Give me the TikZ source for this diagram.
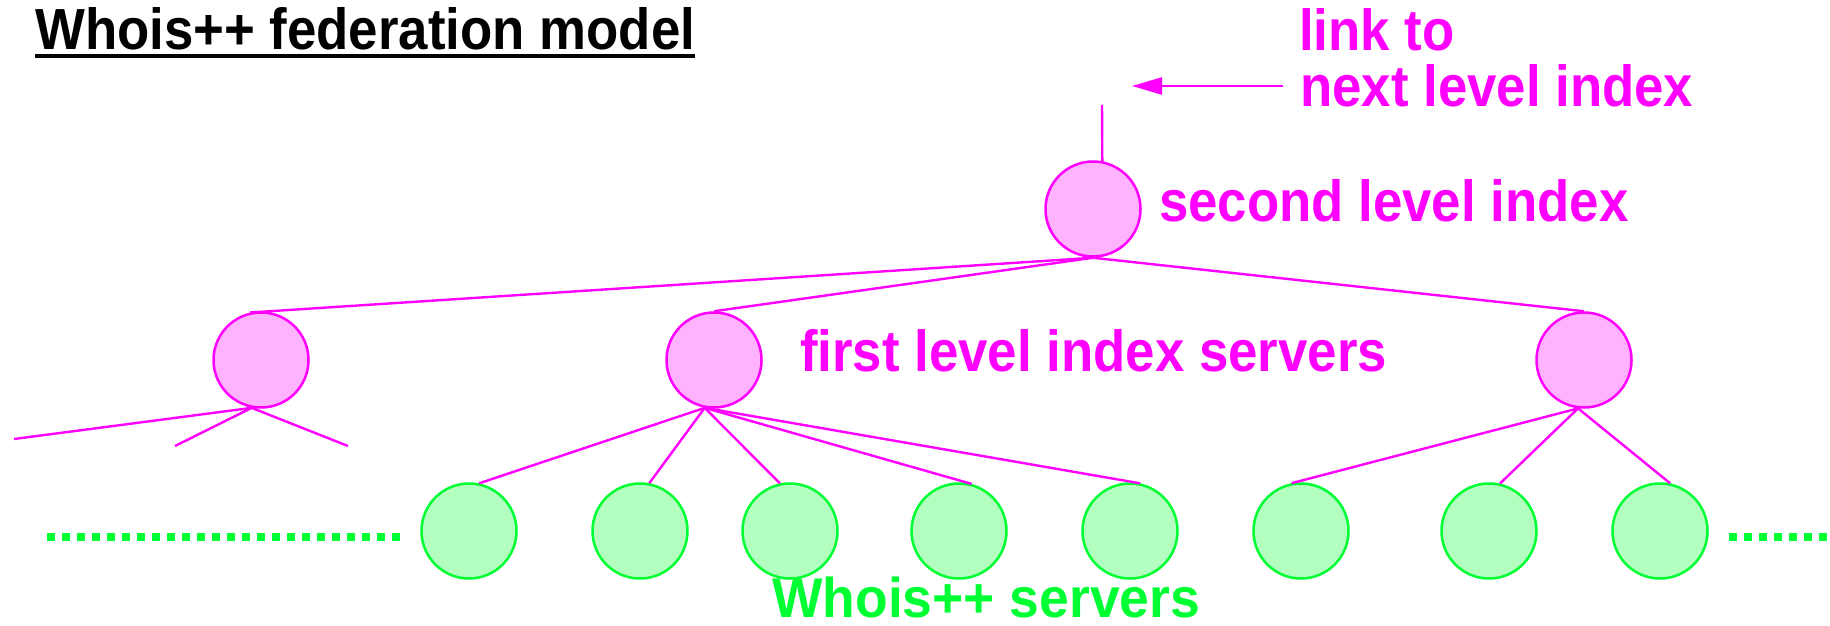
\documentclass[tikz,border=0pt]{standalone}
\usepackage{fontspec}
\setmainfont{Liberation Sans}[FakeStretch=0.91]
\newfontfamily\srvfont{Liberation Sans}[FakeStretch=0.955]
\usetikzlibrary{arrows.meta}
\definecolor{mag}{RGB}{255,0,255}
\definecolor{pinkfill}{RGB}{255,179,255}
\definecolor{grn}{RGB}{0,255,51}
\definecolor{grnfill}{RGB}{179,255,192}
\tikzset{
  idx/.style={circle, draw=mag, fill=pinkfill, line width=2.5pt, minimum size=95pt, inner sep=0pt},
  srv/.style={circle, draw=grn, fill=grnfill, line width=2.5pt, minimum size=95pt, inner sep=0pt},
  conn/.style={draw=mag, line width=2.4pt},
  lbl/.style={inner sep=0pt, anchor=base west, font=\fontsize{58}{64}\selectfont\bfseries},
  dotrow/.style={draw=grn, line width=8pt, dash pattern=on 8pt off 7pt},
}
\begin{document}
\begin{tikzpicture}[x=1pt,y=-1pt]
\useasboundingbox (0,0) rectangle (1830,626);
% title
\node[lbl] (title) at (35,49) {Whois++ federation model};
\draw[line width=4pt] ([yshift=-7pt]title.base west) -- ([yshift=-7pt]title.base east);
% labels
\node[lbl, text=mag] (link1) at (1299,51) {link to};
\node[lbl, text=mag] (link2) at (1300,106) {next level index};
\node[lbl, text=mag] (slabel) at (1159,221) {second level index};
\node[lbl, text=mag] (flabel) at (800,371) {first level index servers};
\node[lbl, text=grn, font=\srvfont\fontsize{56}{62}\selectfont\bfseries] (wlabel) at (772,617) {Whois++ servers};
% nodes
\node[idx] (s) at (1093,209) {};
\node[idx] (f1) at (261,360) {};
\node[idx] (f2) at (714,360) {};
\node[idx] (f3) at (1584,360) {};
\node[srv] (g1) at (469,531) {};
\node[srv] (g2) at (640,531) {};
\node[srv] (g3) at (790,531) {};
\node[srv] (g4) at (959,531) {};
\node[srv] (g5) at (1130,531) {};
\node[srv] (g6) at (1301,531) {};
\node[srv] (g7) at (1489,531) {};
\node[srv] (g8) at (1660,531) {};
% free ends
\coordinate (up) at (1102,105);
\coordinate (atail) at (1283,86);
\coordinate (atip) at (1132,86);
\coordinate (l1) at (14,439);
\coordinate (l2) at (175,446);
\coordinate (l3) at (348,446);
% connectors
\draw[conn] (s.79) -- (up);
\draw[conn, -{Triangle[length=30pt,width=17pt]}] (atail) -- (atip);
\draw[conn] (s.south) -- (f1.103);
\draw[conn] (s.south) -- (f2.north);
\draw[conn] (s.south) -- (f3.north);
\draw[conn] (f1.259) -- (l1);
\draw[conn] (f1.259) -- (l2);
\draw[conn] (f1.259) -- (l3);
\draw[conn] (f2.259) -- (g1.78);
\draw[conn] (f2.259) -- (g2.79);
\draw[conn] (f2.259) -- (g3.102);
\draw[conn] (f2.259) -- (g4.75);
\draw[conn] (f2.259) -- (g5.78);
\draw[conn] (f3.263) -- (g6.101);
\draw[conn] (f3.263) -- (g7.77);
\draw[conn] (f3.263) -- (g8.78);
% dots
\draw[dotrow] (47,537) -- (400,537);
\draw[dotrow] (1729,537) -- (1830,537);
\end{tikzpicture}
\end{document}
